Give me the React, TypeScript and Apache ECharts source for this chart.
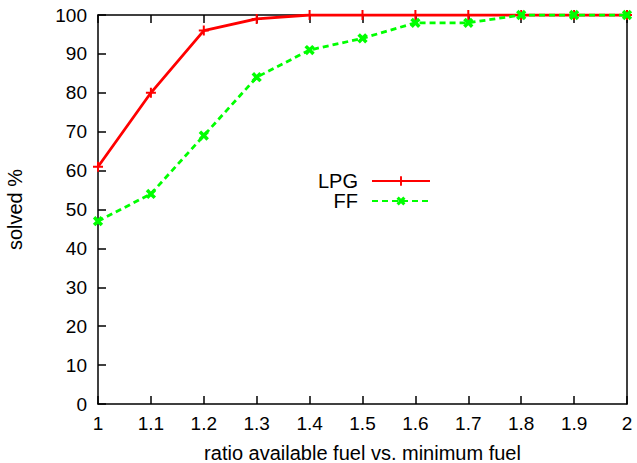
import React, { useEffect, useRef } from "react";
import * as echarts from "echarts";

const xValues = [1, 1.1, 1.2, 1.3, 1.4, 1.5, 1.6, 1.7, 1.8, 1.9, 2];
const lpgValues = [61, 80, 96, 99, 100, 100, 100, 100, 100, 100, 100];
const ffValues = [47, 54, 69, 84, 91, 94, 98, 98, 100, 100, 100];

const FONT = "Liberation Sans";
const PLUS = "path://M4,0 H6 V4 H10 V6 H6 V10 H4 V6 H0 V4 H4 Z";
const CROSS = "path://M3.4,0 H6.6 V3.4 H10 V6.6 H6.6 V10 H3.4 V6.6 H0 V3.4 H3.4 Z";

export default function App() {
  const ref = useRef<HTMLDivElement>(null);
  useEffect(() => {
    if (!ref.current) return;
    const chart = echarts.init(ref.current, undefined, { renderer: "svg" });
    chart.setOption({
      animation: false,
      backgroundColor: "#fff",
      textStyle: { fontFamily: FONT },
      grid: { left: 98, top: 15, right: 10, bottom: 59, show: false, containLabel: false, outerBoundsMode: "none" },
      legend: {
        right: 201,
        top: 166,
        orient: "vertical",
        align: "right",
        itemWidth: 58,
        itemHeight: 12,
        itemGap: 0,
        textStyle: { fontFamily: FONT, fontSize: 20, lineHeight: 20, color: "#000", padding: [0, 9, 0, 0] },
        data: ["LPG", "FF"],
      },
      xAxis: [
        {
          type: "value",
          min: 1,
          max: 2,
          interval: 0.1,
          position: "bottom",
          name: "ratio available fuel vs. minimum fuel",
          nameLocation: "middle",
          nameGap: 39,
          nameTextStyle: { fontFamily: FONT, fontSize: 20, color: "#000" },
          axisLine: { show: true, onZero: false, lineStyle: { color: "#000", width: 1.5 } },
          axisTick: { show: true, inside: true, length: 8, lineStyle: { color: "#000", width: 1.5 } },
          axisLabel: { fontFamily: FONT, fontSize: 19, color: "#000", margin: 10 },
          splitLine: { show: false },
        },
        {
          type: "value",
          min: 1,
          max: 2,
          interval: 0.1,
          position: "top",
          axisLine: { show: true, onZero: false, lineStyle: { color: "#000", width: 1.5 } },
          axisTick: { show: true, inside: true, length: 8, lineStyle: { color: "#000", width: 1.5 } },
          axisLabel: { show: false },
          splitLine: { show: false },
        },
      ],
      yAxis: [
        {
          type: "value",
          min: 0,
          max: 100,
          interval: 10,
          position: "left",
          name: "solved %",
          nameLocation: "middle",
          nameGap: 73,
          nameTextStyle: { fontFamily: FONT, fontSize: 20, color: "#000" },
          axisLine: { show: true, onZero: false, lineStyle: { color: "#000", width: 1.5 } },
          axisTick: { show: true, inside: true, length: 8, lineStyle: { color: "#000", width: 1.5 } },
          axisLabel: { fontFamily: FONT, fontSize: 19, color: "#000", margin: 11 },
          splitLine: { show: false },
        },
        {
          type: "value",
          min: 0,
          max: 100,
          interval: 10,
          position: "right",
          axisLine: { show: true, onZero: false, lineStyle: { color: "#000", width: 1.5 } },
          axisTick: { show: false },
          axisLabel: { show: false },
          splitLine: { show: false },
        },
      ],
      series: [
        {
          name: "LPG",
          type: "line",
          data: xValues.map((x, i) => [x, lpgValues[i]]),
          symbol: PLUS,
          symbolSize: 10,
          itemStyle: { color: "#ff0000" },
          lineStyle: { color: "#ff0000", width: 2.8 },
          z: 3,
        },
        {
          name: "FF",
          type: "line",
          data: xValues.map((x, i) => [x, ffValues[i]]),
          symbol: CROSS,
          symbolRotate: 45,
          symbolSize: 11,
          itemStyle: { color: "#00ff00" },
          lineStyle: { color: "#00ff00", width: 2.8, type: [6, 4] },
          z: 4,
        },
      ],
    });
    return () => chart.dispose();
  }, []);
  return <div ref={ref} style={{ width: 637, height: 463, position: "absolute", left: 0, top: 0 }} />;
}
